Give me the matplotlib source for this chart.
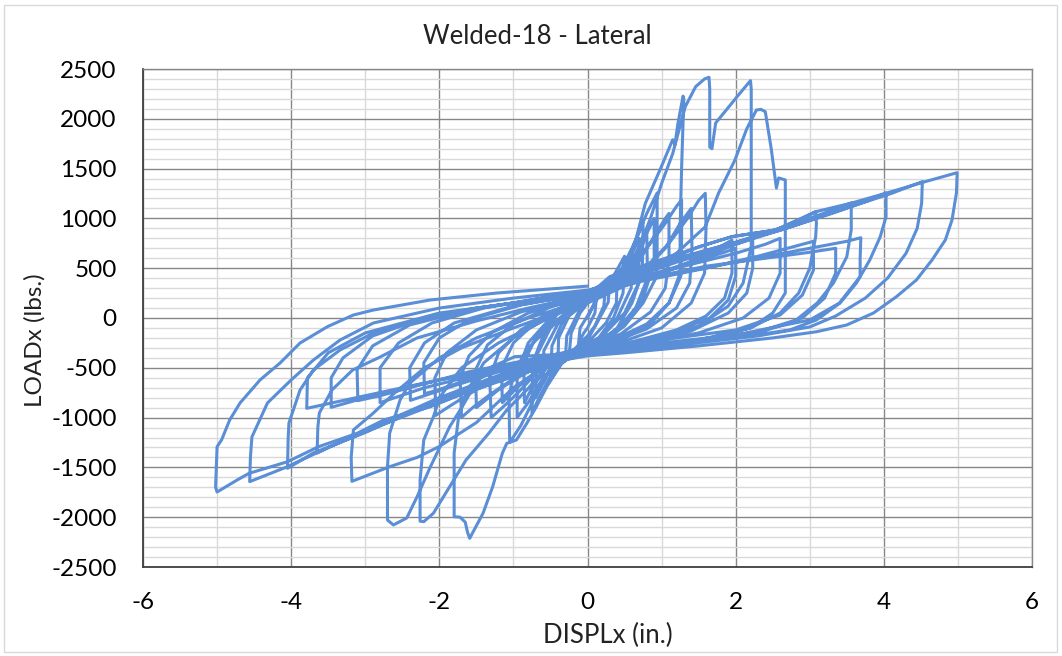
import matplotlib
matplotlib.use('Agg')
import matplotlib.pyplot as plt
from matplotlib.ticker import MultipleLocator
import matplotlib.patches as patches

plt.rcParams['font.family'] = ['Lato', 'DejaVu Sans']
plt.rcParams['axes.unicode_minus'] = False

title = "Welded-18 - Lateral"
xlabel = "DISPLx (in.)"
ylabel = "LOADx (lbs.)"
x_ticks = [-6, -4, -2, 0, 2, 4, 6]
y_ticks = [-2500, -2000, -1500, -1000, -500, 0, 500, 1000, 1500, 2000, 2500]

# Cycles (DISPLx in., LOADx lbs.)
S0 = [(0, 0), (0.05, 80), (0.12, 200), (0.1, 50), (0, -100), (-0.05, -150), (-0.12, -250), (-0.1, -100),
      (0, 20)]
L1 = [(0, 20), (0.1, 150), (0.25, 350), (0.22, 120), (0.1, -80), (0, -180), (-0.1, -250), (-0.25, -380),
      (-0.22, -150), (-0.1, 50), (0, 150)]
T1 = [(0, 150), (0.12, 230), (0.3, 400), (0.28, 160), (0.12, -60), (0, -220), (-0.12, -300),
      (-0.3, -430), (-0.28, -180), (-0.12, 60), (0, 180)]
L2 = [(0, 180), (0.2, 280), (0.35, 420), (0.5, 620), (0.48, 250), (0.35, 0), (0.15, -200), (0, -280),
      (-0.2, -360), (-0.35, -450), (-0.5, -620), (-0.48, -280), (-0.35, -60), (-0.15, 120), (0, 200)]
T2 = [(0, 200), (0.2, 260), (0.4, 420), (0.39, 150), (0.25, -50), (0, -250), (-0.2, -330), (-0.4, -480),
      (-0.39, -200), (-0.25, 20), (0, 170)]
L3 = [(0, 170), (0.25, 320), (0.45, 480), (0.6, 700), (0.75, 950), (0.74, 450), (0.6, 150), (0.4, -100),
      (0.15, -250), (0, -300), (-0.25, -400), (-0.45, -520), (-0.6, -720), (-0.75, -950), (-0.74, -450),
      (-0.6, -180), (-0.4, 50), (-0.15, 170), (0, 220)]
T3 = [(0, 220), (0.3, 300), (0.5, 480), (0.6, 650), (0.59, 300), (0.4, 0), (0.15, -220), (0, -290),
      (-0.3, -380), (-0.5, -500), (-0.6, -650), (-0.59, -330), (-0.4, -60), (-0.15, 120), (0, 260)]
T3b = [(0, 260), (0.3, 360), (0.55, 560), (0.7, 800), (0.69, 350), (0.5, 50), (0.2, -180), (0, -260),
       (-0.3, -350), (-0.55, -560), (-0.7, -800), (-0.69, -380), (-0.5, -100), (-0.2, 100), (0, 200)]
L4 = [(0, 200), (0.3, 340), (0.5, 500), (0.65, 780), (0.8, 1050), (0.94, 1255), (0.94, 700), (0.93, 412),
      (0.75, 150), (0.5, -80), (0.25, -220), (0, -300), (-0.3, -400), (-0.5, -520), (-0.7, -780),
      (-0.9, -1080), (-1.05, -1250), (-1.06, -800), (-1.0, -550), (-0.8, -300), (-0.5, -80), (-0.25, 80),
      (0, 200)]
T4 = [(0, 200), (0.3, 300), (0.55, 450), (0.7, 650), (0.8, 850), (0.81, 400), (0.65, 100), (0.4, -120),
      (0.15, -250), (0, -300), (-0.3, -380), (-0.55, -500), (-0.75, -700), (-0.85, -850), (-0.86, -450),
      (-0.7, -200), (-0.45, 20), (-0.2, 150), (0, 210)]
T4b = [(0, 210), (0.35, 330), (0.6, 560), (0.8, 850), (0.9, 1000), (0.9, 550), (0.75, 200), (0.45, -100),
       (0.1, -240), (0, -270), (-0.35, -420), (-0.6, -600), (-0.8, -850), (-0.95, -1000), (-0.95, -550),
       (-0.8, -250), (-0.5, 0), (-0.2, 140), (0, 210)]
L5 = [(0, 210), (0.2, 300), (0.4, 420), (0.55, 560), (0.65, 780), (0.78, 1150), (0.98, 1490), (1.1, 1700),
      (1.15, 1790), (1.18, 1740), (1.22, 1950), (1.29, 2228), (1.30, 2200), (1.27, 1500), (1.25, 900),
      (1.25, 450), (1.1, 150), (0.85, -60), (0.5, -200), (0.2, -280), (0, -330), (-0.3, -400),
      (-0.55, -690), (-0.69, -890), (-0.82, -1058), (-0.96, -1225), (-1.09, -1259), (-1.15, -1359),
      (-1.28, -1694), (-1.41, -1960), (-1.59, -2212), (-1.62, -2150), (-1.65, -2050), (-1.72, -2000),
      (-1.80, -1995), (-1.80, -1700), (-1.80, -1355), (-1.74, -991), (-1.64, -756), (-1.4, -450),
      (-1.0, -200), (-0.5, 20), (-0.2, 150), (0, 220)]
T5 = [(0, 220), (0.3, 330), (0.6, 520), (0.85, 750), (1.05, 950), (1.2, 1120), (1.27, 1185), (1.27, 800),
      (1.26, 420), (1.1, 150), (0.8, -60), (0.4, -200), (0, -300), (-0.4, -420), (-0.7, -560),
      (-0.95, -760), (-1.15, -900), (-1.3, -1000), (-1.32, -600), (-1.2, -350), (-0.9, -120), (-0.5, 60),
      (0, 200)]
T5b = [(0, 200), (0.35, 320), (0.65, 520), (0.9, 820), (1.05, 1000), (1.1, 1050), (1.1, 600), (1.05, 300),
       (0.85, 60), (0.45, -160), (0, -290), (-0.4, -400), (-0.7, -540), (-0.95, -700), (-1.15, -850),
       (-1.16, -500), (-1.0, -250), (-0.7, -40), (-0.3, 130), (0, 230)]
L6 = [(0, 230), (0.3, 300), (0.55, 480), (0.7, 720), (0.85, 1000), (1.0, 1350), (1.15, 1650),
      (1.32, 2122), (1.46, 2323), (1.58, 2400), (1.64, 2417), (1.65, 2300), (1.65, 1717), (1.68, 1700),
      (1.73, 1958), (1.91, 2122), (2.05, 2250), (2.20, 2383), (2.21, 2300), (2.21, 1500), (2.21, 716),
      (2.1, 350), (1.9, 120), (1.5, -80), (1.0, -200), (0.5, -280), (0, -340), (-0.5, -450),
      (-0.82, -723), (-1.09, -924), (-1.33, -1155), (-1.64, -1426), (-1.86, -1694), (-2.08, -1960),
      (-2.21, -2045), (-2.26, -2040), (-2.26, -1627), (-2.21, -1225), (-2.08, -991), (-1.99, -790),
      (-1.7, -500), (-1.2, -250), (-0.6, -30), (0, 180)]
T6 = [(0, 180), (0.4, 330), (0.8, 520), (1.1, 750), (1.35, 1000), (1.5, 1180), (1.59, 1252), (1.60, 900),
      (1.58, 450), (1.4, 150), (1.0, -100), (0.5, -230), (0, -320), (-0.5, -440), (-0.9, -560),
      (-1.3, -760), (-1.55, -900), (-1.70, -998), (-1.72, -600), (-1.6, -380), (-1.3, -150), (-0.8, 50),
      (-0.3, 170), (0, 220)]
T6b = [(0, 220), (0.4, 340), (0.8, 500), (1.05, 700), (1.25, 950), (1.4, 1100), (1.41, 700), (1.38, 350),
       (1.2, 100), (0.8, -110), (0.3, -250), (0, -310), (-0.5, -430), (-0.9, -580), (-1.2, -720),
       (-1.45, -870), (-1.5, -900), (-1.51, -520), (-1.35, -270), (-1.0, -60), (-0.5, 110), (0, 210)]
L7 = [(0, 210), (0.4, 350), (0.8, 480), (1.2, 650), (1.59, 916), (1.77, 1255), (1.99, 1586), (2.15, 1900),
      (2.28, 2088), (2.34, 2095), (2.40, 2071), (2.44, 1888), (2.48, 1700), (2.53, 1419), (2.55, 1305),
      (2.58, 1406), (2.67, 1386), (2.67, 800), (2.67, 251), (2.5, 50), (2.2, -100), (1.5, -220),
      (0.8, -290), (0, -340), (-0.5, -370), (-0.98, -388), (-1.29, -489), (-1.51, -655), (-1.69, -890),
      (-1.86, -1091), (-1.99, -1292), (-2.12, -1493), (-2.30, -1794), (-2.44, -2008), (-2.62, -2078),
      (-2.70, -2028), (-2.70, -1493), (-2.67, -1155), (-2.53, -823), (-2.40, -655), (-2.0, -400),
      (-1.5, -200), (-0.8, 0), (0, 180)]
T7 = [(0, 180), (0.5, 330), (1.0, 450), (1.5, 600), (1.8, 720), (1.95, 783), (1.95, 450), (1.85, 200),
      (1.6, 20), (1.2, -120), (0.6, -240), (0, -330), (-0.5, -430), (-1.0, -560), (-1.5, -720),
      (-1.85, -880), (-2.05, -978), (-2.06, -600), (-1.9, -350), (-1.5, -120), (-0.9, 60), (-0.3, 180),
      (0, 230)]
L8 = [(0, 230), (0.3, 380), (1.0, 560), (1.51, 716), (1.95, 817), (2.54, 884), (2.9, 1000), (3.08, 1067),
      (3.09, 950), (3.08, 816), (3.0, 500), (2.85, 250), (2.6, 50), (2.2, -100), (1.5, -230), (0.7, -300),
      (0, -340), (-0.5, -450), (-1.0, -700), (-1.5, -1050), (-2.0, -1290), (-2.3, -1400), (-2.67, -1493),
      (-3.18, -1640), (-3.19, -1400), (-3.16, -1124), (-2.89, -954), (-2.6, -750), (-2.2, -500),
      (-1.7, -300), (-1.0, -100), (-0.4, 60), (0, 150)]
T8 = [(0, 150), (0.5, 320), (1.0, 450), (1.6, 620), (2.0, 740), (2.23, 803), (2.23, 500), (2.15, 250),
      (1.9, 50), (1.4, -130), (0.7, -250), (0, -320), (-0.6, -420), (-1.2, -540), (-1.8, -680),
      (-2.2, -780), (-2.39, -827), (-2.4, -500), (-2.2, -250), (-1.8, -50), (-1.0, 120), (-0.4, 200),
      (0, 250)]
T8b = [(0, 250), (0.5, 360), (1.0, 470), (1.5, 580), (1.85, 660), (2.0, 700), (2.0, 420), (1.9, 180),
       (1.65, 0), (1.1, -160), (0.5, -260), (0, -300), (-0.6, -400), (-1.2, -520), (-1.7, -640),
       (-2.05, -730), (-2.2, -760), (-2.21, -450), (-2.0, -200), (-1.6, -20), (-0.9, 130), (-0.3, 210),
       (0, 270)]
L9 = [(0, 270), (0.5, 420), (1.2, 600), (2.0, 760), (2.8, 950), (3.3, 1080), (3.56, 1155), (3.56, 884),
      (3.50, 615), (3.32, 351), (3.1, 150), (2.8, -30), (2.3, -150), (1.5, -240), (0.7, -300), (0, -340),
      (-1.0, -520), (-2.0, -800), (-3.0, -1130), (-3.65, -1355), (-3.64, -1100), (-3.62, -954),
      (-3.45, -723), (-3.17, -522), (-2.80, -392), (-2.3, -200), (-1.5, -30), (-0.8, 100), (0, 230)]
T9 = [(0, 230), (0.6, 380), (1.3, 520), (2.0, 650), (2.4, 740), (2.6, 800), (2.6, 450), (2.45, 200),
      (2.1, 0), (1.5, -150), (0.7, -260), (0, -330), (-0.7, -430), (-1.5, -570), (-2.2, -700),
      (-2.6, -800), (-2.8, -850), (-2.8, -500), (-2.55, -250), (-2.1, -50), (-1.4, 100), (-0.6, 200),
      (0, 250)]
L10 = [(0, 250), (0.5, 400), (1.0, 540), (1.8, 720), (2.6, 880), (3.3, 1050), (3.8, 1180), (4.03, 1255),
       (4.03, 1017), (3.95, 813), (3.81, 582), (3.63, 351), (3.41, 151), (3.09, -20), (2.73, -120),
       (2.0, -200), (1.0, -270), (0, -350), (-1.0, -540), (-2.0, -820), (-3.0, -1150), (-3.7, -1355),
       (-4.05, -1509), (-4.04, -1200), (-4.03, -1054), (-3.88, -723), (-3.70, -522), (-3.34, -321),
       (-2.89, -151), (-2.3, -20), (-1.5, 100), (-0.7, 180), (0, 250)]
T10 = [(0, 250), (0.8, 400), (1.6, 520), (2.4, 600), (3.0, 660), (3.35, 700), (3.35, 450), (3.2, 200),
       (2.9, 0), (2.3, -140), (1.4, -230), (0, -330), (-0.8, -440), (-1.6, -560), (-2.4, -690),
       (-3.0, -800), (-3.46, -897), (-3.46, -600), (-3.3, -400), (-2.9, -180), (-2.2, 0), (-1.3, 120),
       (-0.5, 200), (0, 240)]
T10b = [(0, 240), (0.8, 380), (1.6, 500), (2.3, 620), (2.8, 720), (3.05, 770), (3.05, 480), (2.9, 230),
        (2.6, 30), (2.0, -120), (1.0, -220), (0, -300), (-0.8, -420), (-1.6, -540), (-2.3, -680),
        (-2.8, -780), (-3.1, -830), (-3.11, -520), (-2.9, -280), (-2.4, -70), (-1.6, 80), (-0.7, 190),
        (0, 260)]
L11 = [(0, 260), (0.5, 380), (1.2, 560), (2.0, 740), (2.8, 930), (3.6, 1130), (4.1, 1250), (4.52, 1369),
       (4.51, 1150), (4.45, 900), (4.3, 650), (4.05, 400), (3.75, 200), (3.35, 20), (3.0, -90),
       (2.3, -180), (1.0, -290), (0, -360), (-1.0, -560), (-2.0, -850), (-2.8, -1080), (-3.5, -1300),
       (-4.06, -1496), (-4.56, -1643), (-4.55, -1400), (-4.53, -1195), (-4.32, -853), (-4.0, -622),
       (-3.70, -422), (-3.34, -221), (-2.89, -50), (-2.0, 100), (-1.0, 200), (0, 280)]
T11 = [(0, 280), (1.0, 420), (2.0, 560), (3.0, 700), (3.5, 770), (3.69, 806), (3.68, 600), (3.68, 415),
       (3.4, 150), (3.0, -20), (2.0, -170), (1.0, -250), (0, -330), (-1.0, -470), (-2.0, -620),
       (-3.0, -780), (-3.5, -860), (-3.79, -907), (-3.78, -600), (-3.5, -350), (-3.0, -150), (-2.0, 50),
       (-1.0, 150), (0, 220)]
L12 = [(0, 220), (0.3, 415), (0.98, 582), (1.51, 716), (1.95, 817), (2.54, 884), (3.08, 1067),
       (3.57, 1155), (4.04, 1255), (4.51, 1359), (4.99, 1459), (4.98, 1255), (4.92, 984), (4.83, 783),
       (4.65, 582), (4.44, 382), (4.17, 214), (3.86, 50), (3.50, -70), (3.09, -138), (2.5, -200),
       (1.5, -280), (0.5, -350), (0, -380), (-0.33, -422), (-1.0, -589), (-1.67, -756), (-2.12, -890),
       (-2.75, -1024), (-3.11, -1158), (-3.63, -1292), (-4.05, -1443), (-4.57, -1560), (-4.73, -1627),
       (-5.0, -1747), (-5.02, -1700), (-5.0, -1292), (-4.94, -1225), (-4.83, -1024), (-4.69, -853),
       (-4.42, -622), (-4.15, -452), (-3.88, -251), (-3.51, -87), (-3.16, 30), (-2.89, 80), (-2.12, 181),
       (-1.22, 251), (-0.33, 301), (0, 320)]

cycles = [S0, L1, T1, L2, T2, L3, T3, T3b, L4, T4, T4b, L5, T5, T5b, L6, T6, T6b, L7, T7, L8, T8, T8b,
          L9, T9, L10, T10, T10b, L11, T11, L12]

xs, ys = [], []
for c in cycles:
    for x, y in c:
        xs.append(x)
        ys.append(y)

W, H = 1062, 656
fig = plt.figure(figsize=(W / 100, H / 100), dpi=100)
fig.patches.append(patches.Rectangle((4 / W, 4 / H), (W - 9) / W, (H - 9) / H, transform=fig.transFigure,
                                     fill=False, edgecolor='#D9D9D9', lw=1.0))
ax = fig.add_axes([143 / W, 1 - 567 / H, 889 / W, 498 / H])

ax.plot(xs, ys, color='#5A8ED6', lw=2.2, solid_joinstyle='round')

ax.set_xlim(-6, 6)
ax.set_ylim(-2500, 2500)
ax.set_xticks(x_ticks)
ax.set_yticks(y_ticks)
ax.xaxis.set_minor_locator(MultipleLocator(1))
ax.yaxis.set_minor_locator(MultipleLocator(100))
ax.set_axisbelow(True)
ax.grid(which='minor', color='#D9D9D9', lw=1.0)
ax.grid(which='major', color='#878787', lw=1.0)
ax.tick_params(which='both', length=0)
ax.tick_params(axis='y', pad=19, labelsize=17.5)
ax.tick_params(axis='x', pad=18, labelsize=17.5)
for s in ['left', 'bottom']:
    ax.spines[s].set_color('#404040')
    ax.spines[s].set_linewidth(1.3)
for s in ['top', 'right']:
    ax.spines[s].set_color('#878787')
    ax.spines[s].set_linewidth(1.0)

fig.text(537 / W, 1 - 43.5 / H, title, ha='center', va='baseline', fontsize=18.5, color='#222222')
fig.text(608 / W, 1 - 643 / H, xlabel, ha='center', va='baseline', fontsize=18.5, color='#222222')
fig.text(35 / W, 1 - 340 / H, ylabel, ha='center', va='center', rotation=90, fontsize=17.5, color='#222222')

fig.savefig('out.png', dpi=100)
